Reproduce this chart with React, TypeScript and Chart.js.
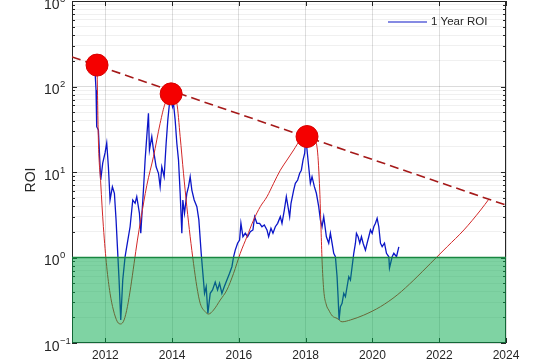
import React, { useEffect, useRef } from "react";
import { Chart, registerables } from "chart.js";

Chart.register(...registerables);

// ---- data ----
const roiYears = [
  2011.69, 2011.72, 2011.74, 2011.79, 2011.86, 2011.92, 2011.99, 2012.04, 2012.09, 2012.14,
  2012.21, 2012.27, 2012.32, 2012.36, 2012.41, 2012.46, 2012.52, 2012.59, 2012.64, 2012.74,
  2012.82, 2012.89, 2012.94, 2013.02, 2013.06, 2013.14, 2013.19, 2013.24, 2013.29, 2013.32,
  2013.39, 2013.44, 2013.52, 2013.59, 2013.64, 2013.69, 2013.76, 2013.82, 2013.87, 2013.92,
  2013.96, 2014.01, 2014.04, 2014.09, 2014.14, 2014.19, 2014.24, 2014.29, 2014.32, 2014.37,
  2014.44, 2014.49, 2014.54, 2014.59, 2014.66, 2014.74, 2014.80, 2014.87, 2014.92, 2014.97,
  2015.02, 2015.07, 2015.14, 2015.21, 2015.29, 2015.36, 2015.42, 2015.49, 2015.56, 2015.64,
  2015.72, 2015.79, 2015.84, 2015.89, 2015.96, 2016.02, 2016.06, 2016.12, 2016.19, 2016.26,
  2016.34, 2016.42, 2016.47, 2016.54, 2016.62, 2016.69, 2016.76, 2016.84, 2016.89, 2016.96,
  2017.02, 2017.09, 2017.16, 2017.24, 2017.29, 2017.36, 2017.42, 2017.47, 2017.52, 2017.56,
  2017.64, 2017.69, 2017.76, 2017.82, 2017.87, 2017.92, 2017.97, 2017.99, 2018.03, 2018.09,
  2018.14, 2018.19, 2018.26, 2018.32, 2018.39, 2018.44, 2018.49, 2018.54, 2018.62, 2018.69,
  2018.74, 2018.79, 2018.84, 2018.89, 2018.94, 2018.97, 2019.00, 2019.04, 2019.09, 2019.14,
  2019.19, 2019.24, 2019.29, 2019.34, 2019.39, 2019.44, 2019.49, 2019.52, 2019.57, 2019.62,
  2019.67, 2019.72, 2019.79, 2019.84, 2019.89, 2019.94, 2019.99, 2020.04, 2020.09, 2020.14,
  2020.19, 2020.24, 2020.29, 2020.36, 2020.42, 2020.49, 2020.51, 2020.59, 2020.64, 2020.72,
  2020.79,
];
const roiValues = [
  150, 91, 33.9, 31, 8.06, 12.7, 16.7, 21.8, 11.5, 4.71,
  6.73, 5.64, 2.75, 1.34, 0.546, 0.186, 0.546, 1.02, 1.34, 2.29,
  4.71, 4.31, 5.14, 3.29, 1.93, 6.15, 13.8, 25.9, 48.6, 18.1,
  25.9, 18.1, 11.5, 9.66, 6.73, 11.5, 8.81, 21.7, 40.6, 63.6,
  76, 58, 63.6, 40.6, 21.7, 13.8, 5.64, 1.92, 4.71, 3.29,
  5.64, 6.73, 8.81, 6.15, 4.71, 3.93, 2.75, 1.12, 0.653, 0.381,
  0.455, 0.222, 0.381, 0.417, 0.516, 0.417, 0.499, 0.381, 0.455, 0.546,
  0.653, 0.78, 1.02, 1.22, 1.47, 1.6, 2.51, 1.75, 1.92, 1.75,
  2.0, 2.1, 3.0, 2.51, 2.51, 2.29, 2.4, 2.1, 1.75, 2.2,
  1.92, 2.29, 2.51, 3.0, 2.51, 3.59, 5.14, 3.93, 3.0, 4.31,
  6.15, 7.38, 8.06, 9.66, 10.5, 13.8, 16.6, 22, 19.8, 11.5,
  7.38, 8.81, 6.73, 5.64, 3.93, 2.75, 2.29, 3.0, 1.75, 1.47,
  1.92, 1.47, 1.12, 1.02, 0.596, 0.348, 0.186, 0.266, 0.291, 0.381,
  0.348, 0.455, 0.596, 0.546, 0.78, 1.12, 1.47, 1.92, 1.75, 1.47,
  1.75, 1.47, 1.22, 1.47, 1.75, 2.1, 1.92, 2.29, 2.51, 2.87,
  2.29, 1.47, 1.34, 1.47, 1.12, 1.02, 0.754, 1.02, 1.12, 1.02,
  1.33,
];

const fitYears = [
  2011.75, 2011.79, 2011.86, 2011.94, 2012.04, 2012.14, 2012.24, 2012.36, 2012.46, 2012.56,
  2012.66, 2012.76, 2012.86, 2012.96, 2013.06, 2013.24, 2013.44, 2013.64, 2013.79, 2013.97,
  2014.14, 2014.24, 2014.34, 2014.44, 2014.54, 2014.64, 2014.74, 2014.84, 2014.99, 2015.09,
  2015.24, 2015.44, 2015.64, 2015.84, 2016.04, 2016.24, 2016.44, 2016.64, 2016.84, 2017.04,
  2017.24, 2017.44, 2017.64, 2017.84, 2018.04, 2018.23, 2018.35, 2018.42, 2018.46, 2018.49,
  2018.54, 2018.62, 2018.69, 2018.80, 2018.94, 2019.09, 2019.34, 2019.74, 2020.24, 2020.74,
  2021.24, 2021.74, 2022.24, 2022.74, 2023.24, 2023.49,
];
const fitValues = [
  178, 23.7, 7.44, 2.29, 0.78, 0.381, 0.243, 0.177, 0.167, 0.186,
  0.266, 0.455, 0.855, 1.6, 2.77, 6.95, 15.1, 37.1, 63.6, 81.7,
  63.6, 25.9, 9.66, 3.93, 1.75, 0.855, 0.455, 0.291, 0.232, 0.218,
  0.243, 0.318, 0.417, 0.653, 1.12, 1.75, 2.75, 3.93, 5.14, 7.38,
  10.5, 13.8, 18.1, 23.7, 26.4, 25.0, 18.1, 6.15, 2.1, 0.935,
  0.417, 0.278, 0.243, 0.207, 0.194, 0.177, 0.186, 0.212, 0.266, 0.364,
  0.546, 0.855, 1.34, 2.1, 3.59, 4.83,
];

const peakYears = [2011.75, 2013.97, 2018.04];
const peakValues = [178, 82, 26];

const trendYears = [2011, 2024];
const trendValues = [222, 4.1];

const zoneYears = [2011, 2024];
const zoneValues = [1, 1];

const xTicks = [2012, 2014, 2016, 2018, 2020, 2022, 2024];
const yDecades = [-1, 0, 1, 2, 3];
const legendLabel = "1 Year ROI";
const yTitle = "ROI";

// ---- styles ----
const FONT = '"Liberation Sans", Arial, sans-serif';
const TEXT = "#262626";
const BLUE = "rgb(12,22,200)";

const yTickValues: number[] = [];
for (let d = -1; d < 3; d++) {
  for (let m = 1; m <= 9; m++) yTickValues.push(+(m * Math.pow(10, d)).toPrecision(3));
}
yTickValues.push(1000);
const isDecade = (v: number) => {
  const l = Math.log10(v);
  return Math.abs(l - Math.round(l)) < 1e-6;
};

const framePlugin = {
  id: "frame",
  beforeDatasetsDraw(chart: any) {
    const { ctx, chartArea: a, scales } = chart;
    const x = scales.x;
    const y = scales.y;
    ctx.save();
    ctx.strokeStyle = TEXT;
    ctx.lineWidth = 1;
    ctx.strokeRect(a.left + 0.5, a.top + 0.5, a.right - a.left - 1, a.bottom - a.top - 1);
    ctx.beginPath();
    yTickValues.forEach((v) => {
      const py = Math.round(y.getPixelForValue(v)) + 0.5;
      const len = isDecade(v) ? 5 : 3;
      ctx.moveTo(a.left, py);
      ctx.lineTo(a.left + len, py);
      ctx.moveTo(a.right, py);
      ctx.lineTo(a.right - len, py);
    });
    xTicks.forEach((v) => {
      const px = Math.round(x.getPixelForValue(v)) + 0.5;
      ctx.moveTo(px, a.bottom);
      ctx.lineTo(px, a.bottom - 5);
      ctx.moveTo(px, a.top);
      ctx.lineTo(px, a.top + 5);
    });
    ctx.stroke();
    ctx.restore();
  },
  afterDraw(chart: any) {
    const { ctx, chartArea: a, scales } = chart;
    const x = scales.x;
    const y = scales.y;
    ctx.save();
    ctx.fillStyle = TEXT;
    // x tick labels
    ctx.font = `12px ${FONT}`;
    ctx.textAlign = "center";
    ctx.textBaseline = "top";
    xTicks.forEach((v) => {
      ctx.fillText(String(v), x.getPixelForValue(v), a.bottom + 7);
    });
    // y tick labels 10^n
    yDecades.forEach((d) => {
      const py = y.getPixelForValue(Math.pow(10, d));
      ctx.font = `14px ${FONT}`;
      ctx.textAlign = "left";
      ctx.textBaseline = "middle";
      ctx.fillText("10", 44, py + 4);
      const w = ctx.measureText("10").width;
      ctx.font = `9.5px ${FONT}`;
      ctx.fillText(d < 0 ? "\u2212" + String(-d) : String(d), 44 + w + 0.5, py - 2);
    });
    // y title
    ctx.save();
    ctx.translate(31, 180);
    ctx.rotate(-Math.PI / 2);
    ctx.font = `14px ${FONT}`;
    ctx.textAlign = "center";
    ctx.textBaseline = "middle";
    ctx.fillText(yTitle, 0, 0);
    ctx.restore();
    // legend
    ctx.strokeStyle = BLUE;
    ctx.lineWidth = 1.2;
    ctx.beginPath();
    ctx.moveTo(388, 22);
    ctx.lineTo(427, 22);
    ctx.stroke();
    ctx.font = `11.5px ${FONT}`;
    ctx.textAlign = "left";
    ctx.textBaseline = "middle";
    ctx.fillText(legendLabel, 431, 22);
    ctx.restore();
  },
};

const pts = (xs: number[], ys: number[]) => xs.map((v, i) => ({ x: v, y: ys[i] }));

export default function App() {
  const ref = useRef<HTMLCanvasElement | null>(null);

  useEffect(() => {
    if (!ref.current) return;
    const chart = new Chart(ref.current, {
      type: "line",
      data: {
        datasets: [
          {
            label: legendLabel,
            data: pts(roiYears, roiValues),
            borderColor: BLUE,
            borderWidth: 1.3,
            pointRadius: 0,
            tension: 0,
            fill: false,
            order: 4,
          },
          {
            label: "fit",
            data: pts(fitYears, fitValues),
            borderColor: "rgb(210,40,40)",
            borderWidth: 1,
            pointRadius: 0,
            cubicInterpolationMode: "monotone",
            fill: false,
            order: 3,
          },
          {
            label: "trend",
            data: pts(trendYears, trendValues),
            borderColor: "rgb(165,25,25)",
            borderWidth: 1.6,
            borderDash: [9, 5],
            pointRadius: 0,
            fill: false,
            order: 2,
          },
          {
            label: "peaks",
            data: pts(peakYears, peakValues),
            showLine: false,
            pointRadius: 11,
            pointBackgroundColor: "rgb(245,0,0)",
            pointBorderColor: "rgb(215,0,0)",
            pointBorderWidth: 1,
            order: 1,
          },
          {
            label: "zone",
            data: pts(zoneYears, zoneValues),
            borderColor: "rgb(25,135,65)",
            borderWidth: 1.5,
            backgroundColor: "rgba(0,168,72,0.5)",
            pointRadius: 0,
            fill: "start",
            order: 0,
          },
        ],
      },
      options: {
        animation: false,
        responsive: false,
        events: [],
        layout: { autoPadding: false, padding: { left: 0, top: 1, right: 54, bottom: 0 } },
        plugins: {
          legend: { display: false },
          tooltip: { enabled: false },
        },
        scales: {
          x: {
            type: "linear",
            min: 2011,
            max: 2024,
            afterBuildTicks: (s: any) => {
              s.ticks = xTicks.map((v) => ({ value: v }));
            },
            afterFit: (s: any) => {
              s.height = 17;
              s.paddingLeft = s.paddingRight = s.paddingTop = s.paddingBottom = 0;
            },
            ticks: { display: false },
            grid: { color: "rgba(0,0,0,0.13)", lineWidth: 1, drawTicks: false },
            border: { display: false },
          },
          y: {
            type: "logarithmic",
            min: 0.1,
            max: 1000,
            afterBuildTicks: (s: any) => {
              s.ticks = yTickValues.map((v) => ({ value: v }));
            },
            afterFit: (s: any) => {
              s.width = 72;
              s.paddingLeft = s.paddingRight = s.paddingTop = s.paddingBottom = 0;
            },
            ticks: { display: false },
            grid: {
              color: (c: any) =>
                c.tick && isDecade(c.tick.value) ? "rgba(0,0,0,0.14)" : "rgba(0,0,0,0.06)",
              lineWidth: 1,
              drawTicks: false,
            },
            border: { display: false },
          },
        },
      },
      plugins: [framePlugin],
    } as any);
    return () => chart.destroy();
  }, []);

  return (
    <div style={{ position: "absolute", left: 0, top: 0, width: 560, height: 360, background: "#fff" }}>
      <canvas ref={ref} width={560} height={360} style={{ display: "block" }} />
    </div>
  );
}
